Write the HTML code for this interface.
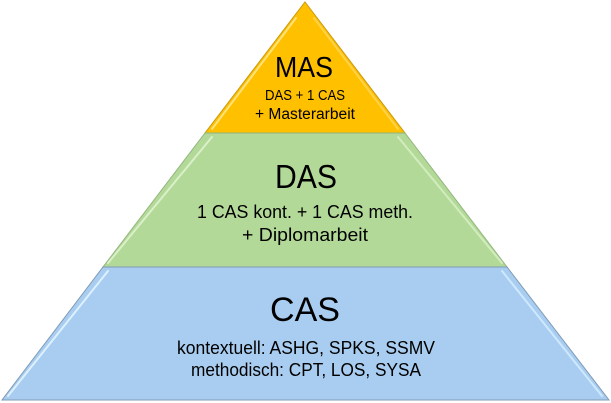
<!DOCTYPE html>
<html><head><style>html,body{margin:0;padding:0;background:#fff;width:611px;height:403px;overflow:hidden}</style></head>
<body>
<svg width="611" height="403" viewBox="0 0 611 403" xmlns="http://www.w3.org/2000/svg" font-family="Liberation Sans, sans-serif">
<polygon points="305,2 405,133 205,133" fill="#FFC000" stroke="#C89A10" stroke-width="1"/>
<polygon points="205,133 405,133 507,267 103,267" fill="#B3D998" stroke="#93B57C" stroke-width="1"/>
<polygon points="103,267 507,267 609,400 2,400" fill="#A8CDF0" stroke="#7F9BB5" stroke-width="1"/>
<g fill="none" stroke-width="2" stroke-linecap="round">
<polyline points="296,18 212,129" stroke="#FFE27A"/>
<polyline points="314,18 398,129" stroke="#FFD24A"/>
<polyline points="212,137 108,263" stroke="#D9F0C8"/>
<polyline points="398,137 502,263" stroke="#D2EDBD"/>
<polyline points="108,271 8,396" stroke="#DDF0FF"/>
<polyline points="502,271 602,396" stroke="#CDE8FF"/>
</g>
<g fill="#000" text-anchor="middle">
<text x="304" y="77" font-size="29" textLength="58" lengthAdjust="spacingAndGlyphs">MAS</text>
<text x="305" y="100" font-size="14.5" textLength="80" lengthAdjust="spacingAndGlyphs">DAS + 1 CAS</text>
<text x="305" y="119" font-size="15.5" textLength="100" lengthAdjust="spacingAndGlyphs">+ Masterarbeit</text>
<text x="306" y="188" font-size="33" textLength="62" lengthAdjust="spacingAndGlyphs">DAS</text>
<text x="305" y="218" font-size="18.5" textLength="216" lengthAdjust="spacingAndGlyphs">1 CAS kont. + 1 CAS meth.</text>
<text x="305" y="241" font-size="18.5" textLength="126" lengthAdjust="spacingAndGlyphs">+ Diplomarbeit</text>
<text x="305" y="321" font-size="34" textLength="70" lengthAdjust="spacingAndGlyphs">CAS</text>
<text x="306" y="354" font-size="18.5" textLength="258" lengthAdjust="spacingAndGlyphs">kontextuell: ASHG, SPKS, SSMV</text>
<text x="306" y="376" font-size="18.5" textLength="230" lengthAdjust="spacingAndGlyphs">methodisch: CPT, LOS, SYSA</text>
</g>
</svg>
</body></html>
